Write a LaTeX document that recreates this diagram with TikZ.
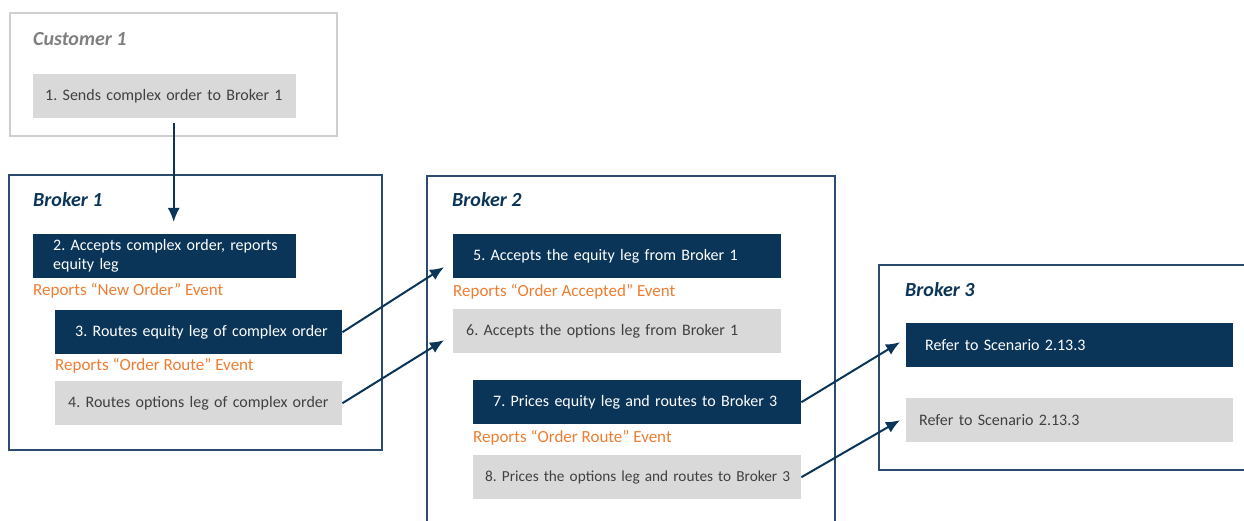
\documentclass[tikz,border=0pt]{standalone}
\usepackage{fontspec}
\setmainfont{Carlito}
\usetikzlibrary{arrows.meta}

\definecolor{navy}{HTML}{0B3558}
\definecolor{framenavy}{HTML}{2B4C6E}
\definecolor{boxgray}{HTML}{D9D9D9}
\definecolor{framegray}{HTML}{CFCFCF}
\definecolor{textgray}{HTML}{404040}
\definecolor{titlegray}{HTML}{7F7F7F}
\definecolor{eventorange}{HTML}{ED7D31}

\newcommand{\boxfont}{\fontsize{16}{19}\selectfont\spaceskip=0.1em plus 0.05em}

\tikzset{
  darkbox/.style={rectangle, fill=navy, text=white, anchor=north west,
    minimum height=44pt, inner xsep=0pt, inner ysep=0pt, align=left,
    font=\boxfont, execute at begin node={\leftskip=20pt}},
  graybox/.style={rectangle, fill=boxgray, text=textgray, anchor=north west,
    minimum height=44pt, inner xsep=0pt, inner ysep=0pt, align=left,
    font=\boxfont, execute at begin node={\leftskip=13pt}},
  eventlabel/.style={anchor=west, inner sep=0pt, text=eventorange,
    font=\fontsize{17}{20}\selectfont},
  frametitle/.style={anchor=west, inner sep=0pt, text=navy,
    font=\fontsize{20}{23}\selectfont\bfseries\itshape},
  flow/.style={draw=navy, line width=2pt, -{Latex[length=14pt,width=12pt]}}
}

\begin{document}
\frenchspacing
\begin{tikzpicture}[x=1pt, y=-1pt]
    \useasboundingbox (0,0) rectangle (1244,521);

    % 枠
    \draw[framegray, line width=1.5pt] (10,13) rectangle (337,136);
    \draw[framenavy, line width=1.8pt] (9,175) rectangle (382,450);
    \draw[framenavy, line width=1.8pt] (427,525) -- (427,176) -- (835,176) -- (835,525);
    \draw[framenavy, line width=1.8pt] (1248,265) -- (879,265) -- (879,470) -- (1248,470);

    % 見出し
    \node[frametitle, text=titlegray] (cust) at (33,39) {Customer 1};
    \node[frametitle] (brk1) at (33,200) {Broker 1};
    \node[frametitle] (brk2) at (452,200) {Broker 2};
    \node[frametitle] (brk3) at (905,290) {Broker 3};

    % Customer 1
    \node[graybox, text width=263pt, execute at begin node={\leftskip=12pt}] (s1) at (33,74) {1. Sends complex order to Broker 1};

    % Broker 1
    \node[darkbox, text width=263pt] (s2) at (33,234) {2. Accepts complex order, reports\\equity leg};
    \node[eventlabel] (e2) at (33,291) {Reports “New Order” Event};
    \node[darkbox, text width=287pt] (s3) at (55,310) {3. Routes equity leg of complex order};
    \node[eventlabel] (e3) at (55,366) {Reports “Order Route” Event};
    \node[graybox, text width=287pt] (s4) at (55,381) {4. Routes options leg of complex order};

    % Broker 2
    \node[darkbox, text width=328pt] (s5) at (453,234) {5. Accepts the equity leg from Broker 1};
    \node[eventlabel] (e5) at (453,292) {Reports “Order Accepted” Event};
    \node[graybox, text width=328pt] (s6) at (453,309) {6. Accepts the options leg from Broker 1};
    \node[darkbox, text width=328pt] (s7) at (473,380) {7. Prices equity leg and routes to Broker 3};
    \node[eventlabel] (e7) at (473,438) {Reports “Order Route” Event};
    \node[graybox, text width=328pt, font={\boxfont\fontsize{15.3}{19}\selectfont},
      execute at begin node={\leftskip=12pt}] (s8) at (473,455) {8. Prices the options leg and routes to Broker 3};

    % Broker 3
    \node[darkbox, text width=327pt, execute at begin node={\leftskip=19pt}] (r1) at (906,323) {Refer to Scenario 2.13.3};
    \node[graybox, text width=327pt] (r2) at (906,398) {Refer to Scenario 2.13.3};

    % 矢印
    \draw[flow] ([xshift=9pt,yshift=-5pt]s1.south) -- ([xshift=9pt,yshift=12pt]s2.north);
    \draw[flow] (s3.east) -- ([xshift=-9pt,yshift=-11pt]s5.west);
    \draw[flow] (s4.east) -- ([xshift=-9pt,yshift=-9pt]s6.west);
    \draw[flow] (s7.east) -- ([xshift=-6pt,yshift=3pt]r1.west);
    \draw[flow] (s8.east) -- ([xshift=-6pt]r2.west);

\end{tikzpicture}
\end{document}
